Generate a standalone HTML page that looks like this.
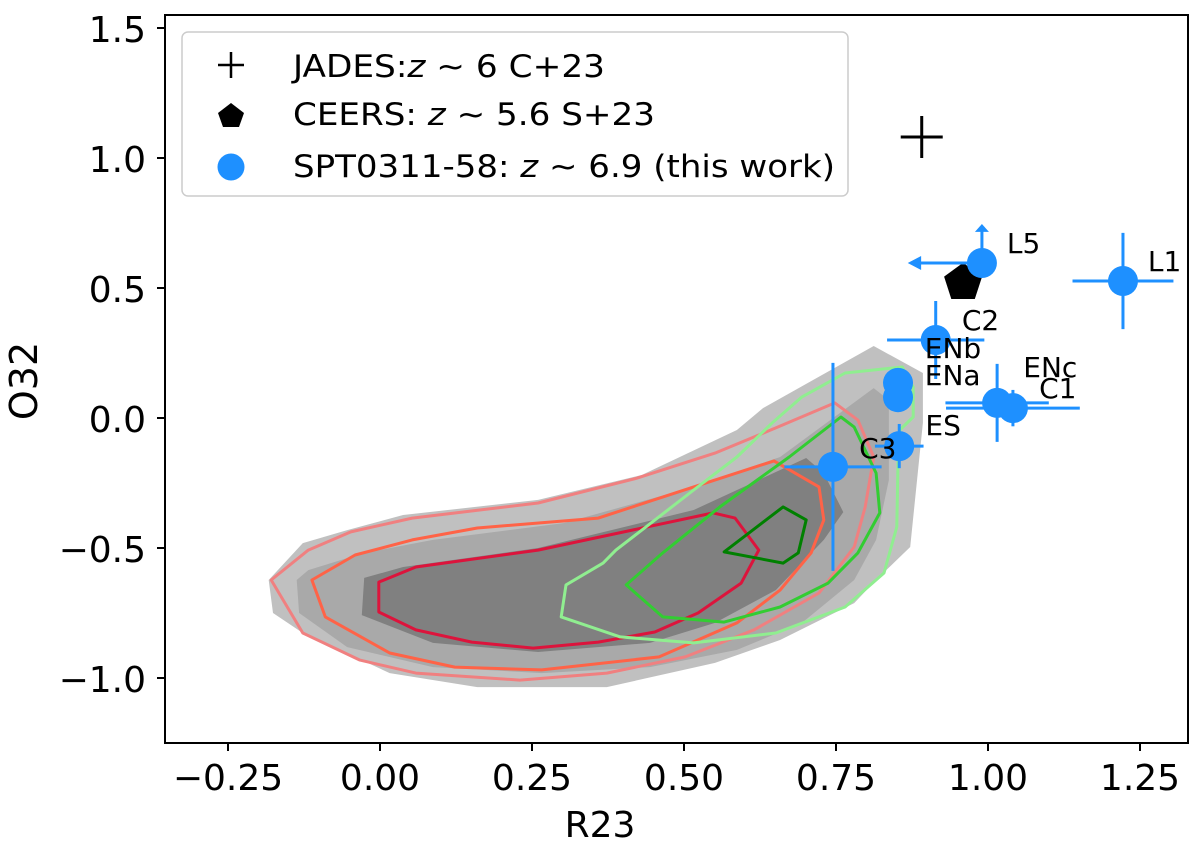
<!DOCTYPE html>
<html><head><meta charset="utf-8"><style>
body{margin:0;background:#fff;}
svg{display:block;font-family:"DejaVu Sans","Liberation Sans",sans-serif;}
</style></head><body>
<svg id="chart" width="1200" height="847" viewBox="0 0 1200 847">
<g id="contours"></g>
<g id="points"></g>
<rect x="165" y="15" width="1023" height="728" fill="none" stroke="#000" stroke-width="2"/>
<g id="xticks"></g>
<g id="yticks"></g>
<text x="600" y="837" font-size="36" text-anchor="middle">R23</text>
<text x="0" y="0" font-size="38" text-anchor="middle" transform="translate(37,381) rotate(-90)">O32</text>
<g>
<rect x="182" y="32" width="666" height="164" rx="6" fill="#fff" fill-opacity="0.85" stroke="#ccc" stroke-width="1.5"/>
<g>
<path d="M218 65h26M231 52v26" stroke="#000" stroke-width="2.5"/>
<text x="293" y="77" font-size="31" textLength="312" lengthAdjust="spacingAndGlyphs">JADES:<tspan font-style="italic">z</tspan> ~  6 C+23</text></g>
<g>
<polygon points="231,103 244,113 239,127 223,127 218,113" fill="#000"/>
<text x="293" y="125" font-size="31" textLength="362" lengthAdjust="spacingAndGlyphs">CEERS: <tspan font-style="italic">z</tspan> ~  5.6 S+23</text></g>
<g>
<circle cx="231" cy="167" r="13.5" fill="#1e90ff"/>
<text x="293" y="177" font-size="31" textLength="542" lengthAdjust="spacingAndGlyphs">SPT0311-58: <tspan font-style="italic">z</tspan> ~  6.9 (this work)</text></g>
</g>
</svg>
<script>
const xTicks=[-0.25,0,0.25,0.5,0.75,1.0,1.25];
const xTickLabels=["\u22120.25","0.00","0.25","0.50","0.75","1.00","1.25"];
const yTicks=[1.5,1.0,0.5,0.0,-0.5,-1.0];
const yTickLabels=["1.5","1.0","0.5","0.0","\u22120.5","\u22121.0"];
const outerGray=[[-0.183,-0.623],[-0.127,-0.481],[-0.054,-0.431],[0.038,-0.373],[0.26,-0.315],[0.431,-0.219],[0.587,-0.046],[0.63,0.038],[0.812,0.277],[0.893,0.173],[0.893,-0.019],[0.872,-0.496],[0.816,-0.623],[0.78,-0.712],[0.658,-0.854],[0.551,-0.942],[0.373,-1.035],[0.16,-1.035],[0.016,-0.981],[-0.127,-0.827],[-0.176,-0.75]];
const midGray=[[-0.137,-0.623],[-0.118,-0.585],[-0.026,-0.519],[0.087,-0.469],[0.303,-0.404],[0.516,-0.265],[0.658,-0.15],[0.812,0.115],[0.837,0.069],[0.837,-0.238],[0.816,-0.469],[0.78,-0.623],[0.694,-0.788],[0.587,-0.892],[0.444,-0.958],[0.266,-0.981],[0.087,-0.958],[-0.054,-0.881],[-0.133,-0.75]];
const darkGray=[[-0.026,-0.615],[0.038,-0.573],[0.26,-0.5],[0.516,-0.354],[0.701,-0.154],[0.73,-0.212],[0.762,-0.362],[0.73,-0.469],[0.651,-0.662],[0.551,-0.788],[0.444,-0.865],[0.26,-0.9],[0.087,-0.865],[-0.03,-0.758]];
const pinkLine=[[-0.179,-0.623],[-0.118,-0.508],[-0.048,-0.438],[0.053,-0.385],[0.26,-0.327],[0.423,-0.231],[0.551,-0.135],[0.651,-0.038],[0.748,0.058],[0.786,-0.008],[0.812,-0.15],[0.798,-0.342],[0.78,-0.496],[0.722,-0.673],[0.615,-0.815],[0.502,-0.919],[0.373,-0.981],[0.23,-1.008],[0.059,-0.981],[-0.033,-0.931],[-0.127,-0.827]];
const orangeLine=[[-0.112,-0.623],[-0.041,-0.527],[0.053,-0.469],[0.16,-0.423],[0.359,-0.385],[0.516,-0.265],[0.648,-0.165],[0.722,-0.265],[0.73,-0.392],[0.709,-0.519],[0.658,-0.662],[0.587,-0.788],[0.459,-0.919],[0.266,-0.969],[0.123,-0.958],[0.016,-0.904],[-0.09,-0.765]];
const crimsonLine=[[-0.002,-0.631],[0.059,-0.573],[0.26,-0.508],[0.548,-0.365],[0.584,-0.385],[0.623,-0.508],[0.594,-0.635],[0.523,-0.75],[0.452,-0.823],[0.359,-0.862],[0.252,-0.885],[0.151,-0.862],[0.059,-0.815],[-0.002,-0.746]];
const lightGreenLine=[[0.298,-0.765],[0.306,-0.642],[0.367,-0.558],[0.388,-0.508],[0.516,-0.277],[0.587,-0.15],[0.645,-0.019],[0.694,0.081],[0.765,0.173],[0.859,0.196],[0.877,0.119],[0.877,0.004],[0.855,-0.046],[0.852,-0.173],[0.85,-0.419],[0.829,-0.596],[0.765,-0.727],[0.651,-0.827],[0.516,-0.865],[0.395,-0.842]];
const greenLine=[[0.405,-0.642],[0.465,-0.519],[0.559,-0.342],[0.673,-0.15],[0.758,0.004],[0.78,-0.035],[0.816,-0.212],[0.822,-0.365],[0.786,-0.519],[0.737,-0.635],[0.658,-0.727],[0.566,-0.785],[0.465,-0.765]];
const darkGreenLine=[[0.566,-0.515],[0.663,-0.342],[0.701,-0.392],[0.688,-0.519],[0.663,-0.558]];
const sptNames=["L5","L1","C2","ENb","ENa","ES","C3","ENc","C1"];
const sptR23=[0.99,1.222,0.914,0.852,0.852,0.854,0.745,1.015,1.041];
const sptO32=[0.596,0.527,0.30,0.135,0.08,-0.108,-0.188,0.058,0.038];
const sptXerr=[0,0.083,0.08,0.02,0.02,0.04,0.08,0.085,0.11];
const sptYerr=[0,0.185,0.15,0.05,0.05,0.085,0.4,0.15,0.07];
const labelDx=[0.041,0.041,0.043,0.044,0.044,0.043,0.043,0.043,0.043];
const labelDy=[0.038,0.038,0.038,0.096,0.046,0.042,0.035,0.1,0.038];
const jadesR23=[0.891], jadesO32=[1.081];
const ceersR23=[0.959], ceersO32=[0.52];
const X=v=>380+v*608, Y=v=>418-v*260;
const NS="http://www.w3.org/2000/svg";
function mk(tag,attrs,parent){const e=document.createElementNS(NS,tag);for(const k in attrs)e.setAttribute(k,attrs[k]);parent.appendChild(e);return e;}
const cg=document.getElementById('contours');
const pts=a=>a.map(p=>X(p[0]).toFixed(1)+','+Y(p[1]).toFixed(1)).join(' ');
const fills=[[outerGray,'#c0c0c0','outer-density-fill'],[midGray,'#a9a9a9','mid-density-fill'],[darkGray,'#808080','inner-density-fill']];
fills.forEach(f=>{const e=mk('polygon',{points:pts(f[0]),fill:f[1]},cg);

});
const lines=[[pinkLine,'#f08080','contour-lightcoral'],[orangeLine,'#ff6347','contour-tomato'],[crimsonLine,'#dc143c','contour-crimson'],[lightGreenLine,'#90ee90','contour-lightgreen'],[greenLine,'#32cd32','contour-limegreen'],[darkGreenLine,'#008000','contour-green']];
lines.forEach(l=>{const e=mk('polygon',{points:pts(l[0]),fill:'none',stroke:l[1],'stroke-width':3,'stroke-linejoin':'round'},cg);

});
const pg=document.getElementById('points');
const blue='#1e90ff';
const cx0=X(ceersR23[0]),cy0=Y(ceersO32[0]);
const pent=mk('polygon',{points:[0,1,2,3,4].map(k=>{const a=-Math.PI/2+k*2*Math.PI/5;return (cx0+20*Math.cos(a)).toFixed(1)+','+(cy0+20*Math.sin(a)).toFixed(1);}).join(' '),fill:'#000'},pg);


sptNames.forEach((n,i)=>{
 const g=mk('g',{},pg);
 
 
 const cx=X(sptR23[i]),cy=Y(sptO32[i]);
 if(i===0){
  mk('line',{x1:cx,y1:cy,x2:X(sptR23[i]-0.115),y2:cy,stroke:blue,'stroke-width':3},g);
  mk('polygon',{points:`${X(sptR23[i]-0.122)},${cy} ${X(sptR23[i]-0.1)},${cy-7} ${X(sptR23[i]-0.1)},${cy+7}`,fill:blue},g);
  mk('line',{x1:cx,y1:cy,x2:cx,y2:Y(sptO32[i]+0.13),stroke:blue,'stroke-width':3},g);
  mk('polygon',{points:`${cx},${Y(sptO32[i]+0.15)} ${cx-7},${Y(sptO32[i]+0.12)} ${cx+7},${Y(sptO32[i]+0.12)}`,fill:blue},g);
 } else {
  mk('line',{x1:X(sptR23[i]-sptXerr[i]),y1:cy,x2:X(sptR23[i]+sptXerr[i]),y2:cy,stroke:blue,'stroke-width':3},g);
  mk('line',{x1:cx,y1:Y(sptO32[i]-sptYerr[i]),x2:cx,y2:Y(sptO32[i]+sptYerr[i]),stroke:blue,'stroke-width':3},g);
 }
 mk('circle',{cx:cx,cy:cy,r:15,fill:blue},g);
});
const jx=X(jadesR23[0]),jy=Y(jadesO32[0]);
const cr=mk('path',{d:`M${jx-21} ${jy}h42M${jx} ${jy-21}v42`,stroke:'#000','stroke-width':3},pg);


sptNames.forEach((n,i)=>{
 const t=mk('text',{x:X(sptR23[i]+labelDx[i]),y:Y(sptO32[i]-labelDy[i]+2*labelDy[i]),'font-size':28},pg);
 t.textContent=n;
 
 
});
const xg=document.getElementById('xticks');
xTicks.forEach((v,i)=>{mk('line',{x1:X(v),y1:743,x2:X(v),y2:751,stroke:'#000','stroke-width':2},xg);
 const t=mk('text',{x:X(v),y:790,'font-size':36,'text-anchor':'middle'},xg);t.textContent=xTickLabels[i];
 
 });
const yg=document.getElementById('yticks');
yTicks.forEach((v,i)=>{mk('line',{x1:157,y1:Y(v),x2:165,y2:Y(v),stroke:'#000','stroke-width':2},yg);
 const t=mk('text',{x:146,y:Y(v)+14,'font-size':36,'text-anchor':'end'},yg);t.textContent=yTickLabels[i];
 
 });
</script>
</body></html>
